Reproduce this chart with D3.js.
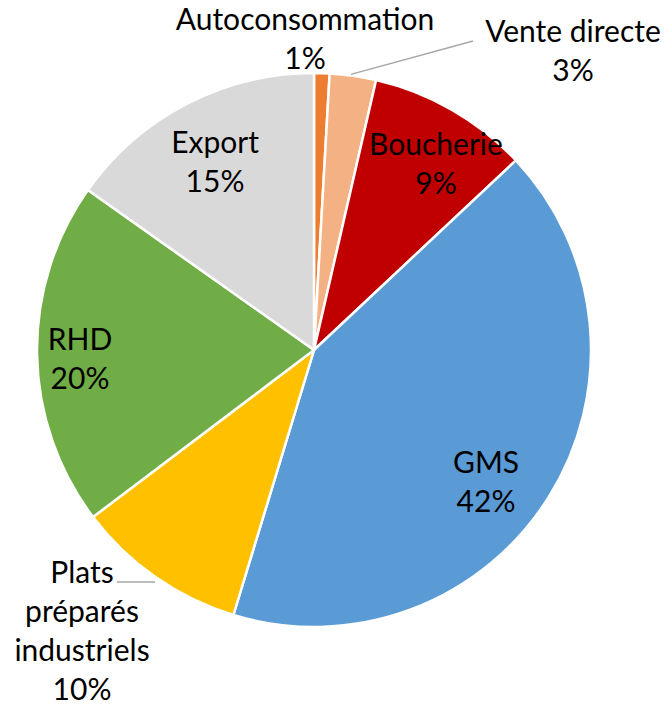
<!DOCTYPE html>
<html>
<head>
<meta charset="utf-8">
<script src="https://cdn.jsdelivr.net/npm/d3@7"></script>
<style>
  html, body { margin: 0; padding: 0; background: #fff; }
  svg { display: block; }
  text { font-family: Lato, "Open Sans", sans-serif; fill: #000; }
</style>
</head>
<body>
<svg id="chart" width="669" height="705"></svg>
<script>
// ---- data ----
const categories = ["Autoconsommation", "Vente directe", "Boucherie", "GMS", "Plats préparés industriels", "RHD", "Export"];
const shares = [0.9, 2.7, 9.4, 41.7, 10.0, 20.1, 15.2];
const labelLines = [["Autoconsommation"], ["Vente directe"], ["Boucherie"], ["GMS"], ["Plats", "préparés", "industriels"], ["RHD"], ["Export"]];
const colors = ["#ED7D31", "#F4B183", "#C00000", "#5B9BD5", "#FFC000", "#70AD47", "#D9D9D9"];

// ---- layout ----
const W = 669, H = 705;
const cx = 314, cy = 350, R = 277;
const fontSize = 30, lineH = 39;
// label first-baseline positions (relative to pie centre)
const labelPos = [
  {x: -9, y: -320},
  {x: 259, y: -308},
  {x: 122, y: -195},
  {x: 172, y: 123},
  {x: -232, y: 233},
  {x: -234, y: 0},
  {x: -99, y: -197}
];
const leaders = {
  1: [[0.145, -0.99], [159, -309]],
  4: [[-197, 232], [-159, 232]]
};

const data = categories.map((c, i) => ({name: c, value: shares[i], lines: labelLines[i], color: colors[i], i}));

const svg = d3.select("#chart");
const g = svg.append("g").attr("transform", `translate(${cx},${cy})`);

const pie = d3.pie().value(d => d.value).sort(null);
const arc = d3.arc().innerRadius(0).outerRadius(R);
const arcs = pie(data);

g.selectAll("path.slice").data(arcs).enter().append("path")
  .attr("class", "slice")
  .attr("d", arc)
  .attr("fill", d => d.data.color)
  .attr("stroke", "#fff")
  .attr("stroke-width", 2.5)
  .attr("stroke-linejoin", "round");

// leader lines
const fmt = d3.format(".0f");
// Vente directe leader starts on the outer edge of its slice
{
  const a = arcs[1];
  const ang = a.startAngle + (a.endAngle - a.startAngle) * 0.45;
  const p0 = [Math.sin(ang) * (R + 1), -Math.cos(ang) * (R + 1)];
  g.append("path")
    .attr("d", d3.line()([p0, [159, -309]]))
    .attr("stroke", "#A6A6A6").attr("stroke-width", 1.3).attr("fill", "none");
}
{
  g.append("path")
    .attr("d", d3.line()([[-197, 232], [-159, 232]]))
    .attr("stroke", "#A6A6A6").attr("stroke-width", 1.3).attr("fill", "none");
}

// labels
const lbl = g.selectAll("text.lbl").data(arcs).enter().append("text")
  .attr("class", "lbl")
  .attr("text-anchor", "middle")
  .attr("font-size", fontSize)
  .attr("transform", d => `translate(${labelPos[d.data.i].x},${labelPos[d.data.i].y})`);

lbl.each(function(d) {
  const t = d3.select(this);
  const lines = d.data.lines.concat([fmt(d.data.value) + "%"]);
  lines.forEach((s, k) => {
    t.append("tspan").attr("x", 0).attr("y", k * lineH).text(s);
  });
});
</script>
</body>
</html>
